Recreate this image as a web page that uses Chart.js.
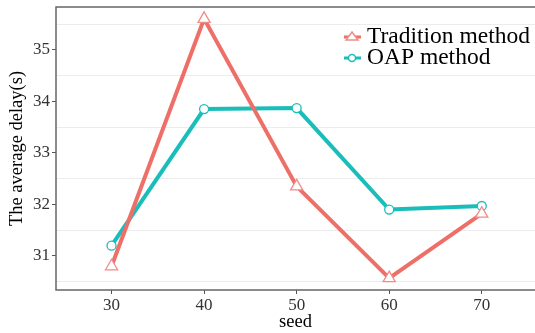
<!DOCTYPE html>
<html>
<head>
<meta charset="utf-8">
<script src="https://cdn.jsdelivr.net/npm/chart.js@4"></script>
<style>
  html, body { margin: 0; padding: 0; background: #fff; }
  #wrap { width: 535px; height: 333px; }
</style>
</head>
<body>
<div id="wrap"><canvas id="grafico"></canvas></div>
<script>
// datos
const seeds = [30, 40, 50, 60, 70];
const tradition = [30.8, 35.6, 32.35, 30.57, 31.82];
const oap = [31.2, 33.85, 33.87, 31.9, 31.97];
const yTicks = [30.5, 31, 31.5, 32, 32.5, 33, 33.5, 34, 34.5, 35, 35.5];
const xTicks = [30, 40, 50, 60, 70];

const rojo = "#EE6F68";
const verde = "#19BDBA";
const fuente = "'Liberation Serif', 'Times New Roman', serif";

// borde del panel (arriba, izquierda, abajo)
const borde = {
  id: "borde",
  afterDraw(chart) {
    const a = chart.chartArea, c = chart.ctx;
    c.save();
    c.strokeStyle = "#666";
    c.lineWidth = 1.5;
    c.beginPath();
    c.moveTo(a.right + 2, a.top);
    c.lineTo(a.left, a.top);
    c.lineTo(a.left, a.bottom);
    c.lineTo(a.right + 2, a.bottom);
    c.stroke();
    c.restore();
  }
};

// leyenda dentro del grafico
const leyenda = {
  id: "leyenda",
  afterDraw(chart) {
    const c = chart.ctx;
    c.save();
    c.font = "23.5px " + fuente;
    c.textBaseline = "middle";
    chart.data.datasets.forEach((ds, i) => {
      const y = 37 + i * 21;
      c.strokeStyle = ds.borderColor;
      c.lineWidth = 3;
      c.beginPath(); c.moveTo(344, y); c.lineTo(361, y); c.stroke();
      c.fillStyle = "#fff";
      c.strokeStyle = ds.pointBorderColor;
      c.lineWidth = 1.5;
      c.beginPath();
      if (ds.pointStyle === "triangle") {
        c.moveTo(352, y - 5); c.lineTo(358, y + 3); c.lineTo(346, y + 3); c.closePath();
      } else {
        c.arc(352, y, 3.5, 0, Math.PI * 2);
      }
      c.fill(); c.stroke();
      c.fillStyle = "#000";
      c.fillText(ds.label, 367, y);
    });
    c.restore();
  }
};

const ctx = document.getElementById("grafico").getContext("2d");
new Chart(ctx, {
  type: "line",
  data: {
    datasets: [
      {
        label: "Tradition method",
        data: seeds.map((s, i) => ({ x: s, y: tradition[i] })),
        borderColor: rojo,
        borderWidth: 4,
        pointStyle: "triangle",
        pointRadius: 7,
        pointBackgroundColor: "#fff",
        pointBorderColor: "#F08C88",
        pointBorderWidth: 1.3,
        tension: 0
      },
      {
        label: "OAP method",
        data: seeds.map((s, i) => ({ x: s, y: oap[i] })),
        borderColor: verde,
        borderWidth: 4,
        pointStyle: "circle",
        pointRadius: 4.5,
        pointBackgroundColor: "#fff",
        pointBorderColor: verde,
        pointBorderWidth: 1.3,
        tension: 0
      }
    ]
  },
  options: {
    responsive: true,
    maintainAspectRatio: false,
    animation: false,
    layout: { autoPadding: false, padding: { left: 6, top: 7, right: 0, bottom: 0 } },
    plugins: {
      legend: { display: false },
      tooltip: { enabled: false }
    },
    scales: {
      x: {
        type: "linear",
        min: 24,
        max: 75.75,
        afterBuildTicks: s => { s.ticks = xTicks.map(v => ({ value: v })); },
        afterFit: s => { s.height = 43; s.paddingRight = 0; s.paddingLeft = 0; },
        grid: { drawOnChartArea: false, tickLength: 4, tickColor: "#555" },
        border: { display: false },
        ticks: { color: "#333", font: { family: fuente, size: 17 }, padding: 1, maxRotation: 0 },
        title: { display: true, text: "seed", color: "#000", font: { family: fuente, size: 18.5 }, padding: 0 }
      },
      y: {
        min: 30.34,
        max: 35.83,
        afterBuildTicks: s => { s.ticks = yTicks.map(v => ({ value: v })); },
        afterFit: s => { s.width = 50; s.paddingTop = 0; s.paddingBottom = 0; },
        grid: {
          tickLength: 4,
          color: c => (c.tick && c.tick.value % 1 !== 0) ? "#ececec" : "rgba(0,0,0,0)",
          tickColor: c => (c.tick && c.tick.value % 1 === 0) ? "#555" : "rgba(0,0,0,0)"
        },
        border: { display: false },
        ticks: {
          color: "#333",
          font: { family: fuente, size: 17 },
          padding: 2,
          callback: v => (v % 1 === 0 ? v : "")
        },
        title: { display: true, text: "The average delay(s)", color: "#000", font: { family: fuente, size: 18.5 }, padding: 0 }
      }
    }
  },
  plugins: [borde, leyenda]
});
</script>
</body>
</html>
